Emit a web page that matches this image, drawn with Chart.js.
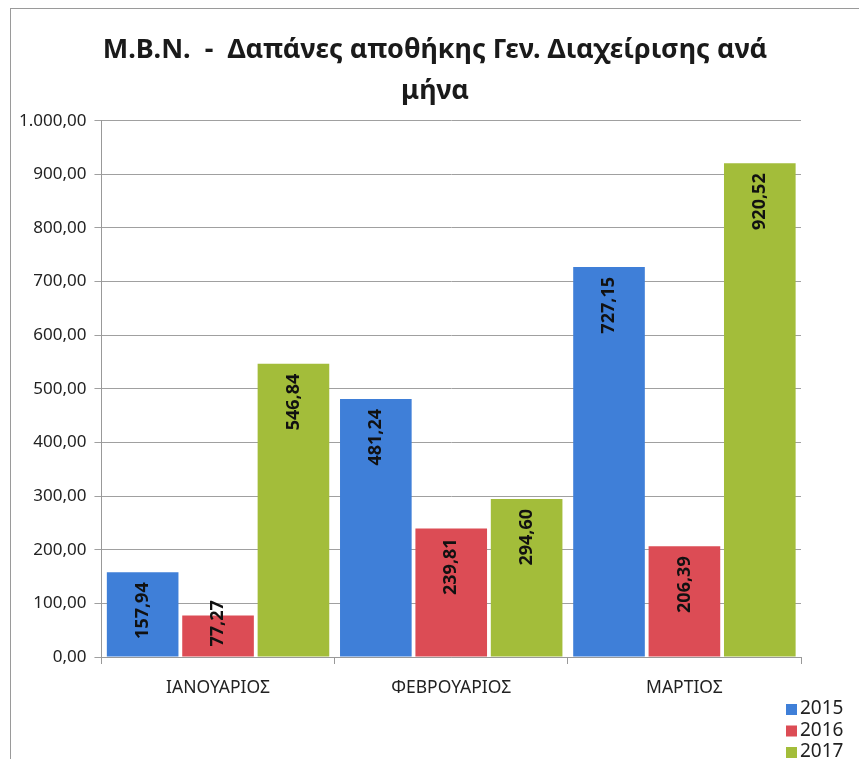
<!DOCTYPE html>
<html>
<head>
<meta charset="utf-8">
<script src="https://cdn.jsdelivr.net/npm/chart.js@4/dist/chart.umd.min.js"></script>
<style>
  body { margin: 0; background: #fff; }
  #wrap {
    position: absolute; left: 10px; top: 8px; right: 0; bottom: 0;
    border-left: 1px solid #9a9a9a; border-top: 1px solid #9a9a9a;
  }
</style>
</head>
<body>
<div id="wrap"><canvas id="chart"></canvas></div>
<script>
const months = ['ΙΑΝΟΥΑΡΙΟΣ', 'ΦΕΒΡΟΥΑΡΙΟΣ', 'ΜΑΡΤΙΟΣ'];
const years = ['2015', '2016', '2017'];
const v2015 = [157.94, 481.24, 727.15];
const v2016 = [77.27, 239.81, 206.39];
const v2017 = [546.84, 294.60, 920.52];
const colors = ['#3f7fd8', '#dc4c55', '#a3bd3a'];

const FONT = '"Noto Sans", "Open Sans", sans-serif';

// greek number format: 1.000,00
function fmt(v) {
    const parts = Number(v).toFixed(2).split('.');
    return parts[0].replace(/\B(?=(\d{3})+(?!\d))/g, '.') + ',' + parts[1];
}

// rotated value labels inside the bars
const barLabels = {
    id: 'barLabels',
    afterDatasetsDraw(chart) {
        const ctx = chart.ctx;
        ctx.save();
        ctx.font = 'bold 18px ' + FONT;
        ctx.fillStyle = '#111';
        ctx.textAlign = 'center';
        ctx.textBaseline = 'middle';
        chart.data.datasets.forEach((ds, i) => {
            chart.getDatasetMeta(i).data.forEach((bar, j) => {
                const txt = fmt(ds.data[j]);
                const w = ctx.measureText(txt).width;
                const top = Math.min(bar.y + 10, bar.base - 10 - w);
                ctx.save();
                ctx.translate(bar.x, top + w / 2);
                ctx.rotate(-Math.PI / 2);
                ctx.fillText(txt, 0, 0);
                ctx.restore();
            });
        });
        ctx.restore();
    }
};

// vertical legend in the bottom right corner
const cornerLegend = {
    id: 'cornerLegend',
    afterDraw(chart) {
        const ctx = chart.ctx;
        ctx.save();
        ctx.font = '19px ' + FONT;
        ctx.textBaseline = 'middle';
        chart.data.datasets.forEach((ds, i) => {
            const y = chart.height - 50 + i * 21.5;
            ctx.fillStyle = ds.backgroundColor;
            ctx.fillRect(chart.width - 73, y - 5, 11, 11);
            ctx.fillStyle = '#222';
            ctx.fillText(ds.label, chart.width - 59, y);
        });
        ctx.restore();
    }
};

const ctx = document.getElementById('chart');

new Chart(ctx, {
    type: 'bar',
    data: {
        labels: months,
        datasets: [
            { label: years[0], data: v2015, backgroundColor: colors[0] },
            { label: years[1], data: v2016, backgroundColor: colors[1] },
            { label: years[2], data: v2017, backgroundColor: colors[2] }
        ]
    },
    options: {
        responsive: true,
        maintainAspectRatio: false,
        animation: false,
        categoryPercentage: 0.97,
        barPercentage: 0.95,
        layout: { padding: { left: 0, right: 0, top: 0, bottom: 46 } },
        plugins: {
            legend: { display: false },
            tooltip: { enabled: false },
            title: {
                display: true,
                text: ['M.B.N.  -  Δαπάνες αποθήκης Γεν. Διαχείρισης ανά', 'μήνα'],
                color: '#1a1a1a',
                font: { family: FONT, size: 27, weight: 'bold', lineHeight: 1.55 },
                padding: { top: 20, bottom: 8 }
            }
        },
        scales: {
            x: {
                grid: { display: true, drawOnChartArea: false, drawTicks: true, tickLength: 7, color: '#999' },
                border: { color: '#999' },
                ticks: { color: '#222', font: { family: FONT, size: 17.5 }, padding: 14 }
            },
            y: {
                min: 0,
                max: 1000,
                ticks: {
                    stepSize: 100,
                    color: '#222',
                    font: { family: FONT, size: 17 },
                    padding: 8,
                    callback: v => fmt(v)
                },
                grid: { color: '#a0a0a0', tickLength: 7 },
                border: { color: '#999' }
            },
            // empty right axis, only keeps the space right of the plot
            yRight: {
                position: 'right',
                grid: { display: false },
                border: { display: false },
                ticks: { display: false },
                afterFit(scale) { scale.width = 58; }
            }
        }
    },
    plugins: [barLabels, cornerLegend]
});
</script>
</body>
</html>
